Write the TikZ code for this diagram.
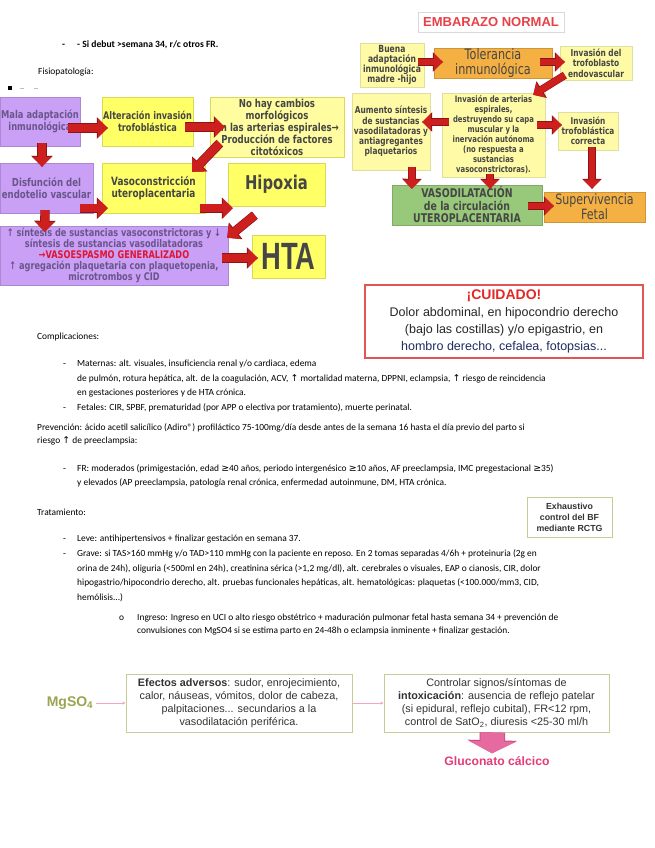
\documentclass[tikz,border=0pt]{standalone}
\usepackage{fontspec}
\setmainfont{Carlito}
\newfontfamily\chartfont[FakeStretch=0.78]{DejaVu Sans}
\newfontfamily\htafont[FakeStretch=0.72]{Liberation Sans}
\newfontfamily\arialfont{Liberation Sans}
\newfontfamily\symfont{DejaVu Sans}
\usetikzlibrary{arrows.meta,positioning}
\definecolor{LilacBox}{RGB}{201,160,245}
\definecolor{LilacText}{RGB}{105,85,140}
\definecolor{BrightYellow}{RGB}{255,255,102}
\definecolor{SoftYellow}{RGB}{255,253,160}
\definecolor{PaleYellow}{RGB}{255,250,165}
\definecolor{PaleBorder}{RGB}{222,222,160}
\definecolor{ChartText}{RGB}{70,70,70}
\definecolor{OrangeBox}{RGB}{244,176,66}
\definecolor{GreenBox}{RGB}{152,200,122}
\definecolor{ArrowRed}{RGB}{205,32,30}
\definecolor{ArrowDark}{RGB}{140,20,20}
\definecolor{SpasmRed}{RGB}{225,20,50}
\definecolor{TitleRed}{RGB}{232,64,72}
\definecolor{CuidadoRed}{RGB}{228,40,40}
\definecolor{CuidadoBorder}{RGB}{225,85,85}
\definecolor{NavyText}{RGB}{30,45,95}
\definecolor{OliveText}{RGB}{155,165,80}
\definecolor{OliveBorder}{RGB}{195,205,150}
\definecolor{PinkArrow}{RGB}{230,105,160}
\definecolor{PinkDark}{RGB}{200,70,130}
\definecolor{PinkText}{RGB}{228,60,120}
\definecolor{PinkLine}{RGB}{245,165,195}
\newcommand{\arrup}{{\symfont ↑}}
\newcommand{\arrdown}{{\symfont ↓}}
\newcommand{\gq}{{\symfont ≥}}

\begin{document}
\begin{tikzpicture}[
    x=1pt, y=-1pt,
    txt/.style={anchor=base west, inner sep=0pt, font=\fontsize{9.4}{11}\selectfont, text=black},
    lilacbox/.style={fill=LilacBox, draw=LilacBox!85!black, align=center, inner sep=0pt, text=LilacText, font=\chartfont\bfseries\fontsize{10.7}{12.3}\selectfont},
    yellowbox/.style={fill=BrightYellow, draw=BrightYellow!85!black, align=center, inner sep=0pt, text=ChartText, font=\chartfont\bfseries\fontsize{10.5}{12.3}\selectfont},
    rowtwo/.style={font=\chartfont\bfseries\fontsize{11}{12}\selectfont},
    paleybox/.style={fill=PaleYellow, draw=PaleBorder, align=center, inner sep=0pt, text=ChartText, font=\chartfont\bfseries\fontsize{9.8}{10}\selectfont},
    orangebox/.style={fill=OrangeBox, draw=OrangeBox!85!black, align=center, inner sep=0pt, text=ChartText, font=\chartfont\fontsize{14.4}{15}\selectfont},
    greenbox/.style={fill=GreenBox, draw=GreenBox!85!black, align=center, inner sep=0pt, text=ChartText, font=\chartfont\bfseries\fontsize{12}{12.5}\selectfont},
    redarrow/.style={draw=ArrowRed, line width=8pt, -{Triangle[length=10pt,width=19pt]},
      preaction={draw=ArrowDark, line width=9.4pt, -{Triangle[length=11pt,width=21pt]}}},
    smallarrow/.style={draw=ArrowRed, line width=6.5pt, -{Triangle[length=9pt,width=17pt]},
      preaction={draw=ArrowDark, line width=7.7pt, -{Triangle[length=10pt,width=19pt]}}},
    olivebox/.style={draw=OliveBorder, line width=1pt, fill=white, align=center, inner sep=0pt, text=black!80, font=\arialfont\fontsize{10.8}{13}\selectfont},
    thinpink/.style={draw=PinkLine, line width=0.6pt, -{Stealth[length=3pt,width=3pt]}},
    pinkarrow/.style={draw=PinkArrow, line width=24pt, -{Triangle[length=12pt,width=47pt]},
      preaction={draw=PinkDark, line width=25.5pt, -{Triangle[length=13pt,width=49pt]}}}
  ]
  \path[use as bounding box, fill=white] (0,0) rectangle (655,848);

  % header text
  \node[txt, font=\bfseries\fontsize{9.6}{11}\selectfont] (dashA) at (62,48) {-};
  \node[txt, font=\bfseries\fontsize{9.6}{11}\selectfont] (sidebut) at (77,48) {- Si debut >semana 34, r/c otros FR.};
  \node[txt] (fisio) at (38,75) {Fisiopatología:};
  \fill[black] (8,86) rectangle (12,90);
  \draw[black!25, line width=0.8pt] (20,88) -- (24,88) (34,88) -- (38,88);

  % Fisiopatologia chart
  \node[lilacbox, minimum width=80pt, minimum height=49pt] (mala) at (40,121.5) {Mala adaptación\\inmunológica};
  \node[yellowbox, minimum width=91pt, minimum height=49pt] (alter) at (147.5,121.5) {Alteración invasión\\trofoblástica};
  \node[yellowbox, fill=SoftYellow, minimum width=134pt, minimum height=60pt, font=\chartfont\bfseries\fontsize{11}{12}\selectfont] (nohay) at (277,127) {No hay cambios\\morfológicos\\en las arterias espirales→\\Producción de factores\\citotóxicos};
  \node[lilacbox, rowtwo, minimum width=93pt, minimum height=50pt] (disf) at (46.5,188) {Disfunción del\\endotelio vascular};
  \node[yellowbox, rowtwo, font=\chartfont\bfseries\fontsize{11.4}{12}\selectfont, minimum width=103pt, minimum height=50pt] (vaso) at (153.5,188) {Vasoconstricción\\uteroplacentaria};
  \node[yellowbox, minimum width=97pt, minimum height=43pt, font=\chartfont\bfseries\fontsize{19}{21}\selectfont] (hipoxia) at (276.5,184.5) {Hipoxia};
  \node[lilacbox, minimum width=228pt, minimum height=59pt, font=\chartfont\bfseries\fontsize{10.5}{10.8}\selectfont] (sintesis) at (114,255.5) {↑ síntesis de sustancias vasoconstrictoras y ↓\\síntesis de sustancias vasodilatadoras\\{\color{SpasmRed}→VASOESPASMO GENERALIZADO}\\↑ agregación plaquetaria con plaquetopenia,\\microtrombos y CID};
  \node[yellowbox, minimum width=73pt, minimum height=43pt, font=\htafont\bfseries\fontsize{38}{40}\selectfont] (hta) at (288.5,256.5) {HTA};

  \draw[redarrow] ([xshift=-12pt,yshift=-6.5pt]mala.east) -- ([xshift=6pt,yshift=-6.5pt]alter.west);
  \draw[redarrow] ([xshift=-8pt,yshift=-5.5pt]alter.east) -- ([xshift=15pt]nohay.west);
  \draw[redarrow] ([xshift=2pt,yshift=3pt]mala.south) -- ([xshift=-4.5pt,yshift=-4pt]disf.north);
  \draw[redarrow] ([xshift=10pt,yshift=14pt]nohay.south west) -- ([xshift=-13pt,yshift=-9pt]vaso.north east);
  \draw[redarrow] ([xshift=-13pt,yshift=5pt]disf.south east) -- ([xshift=6pt,yshift=5pt]vaso.south west);
  \draw[redarrow] ([xshift=-5pt,yshift=5pt]vaso.south east) -- ([xshift=5pt,yshift=-2pt]hipoxia.south west);
  \draw[redarrow] ([xshift=-1.5pt,yshift=3pt]disf.south) -- ([xshift=45pt,yshift=-6pt]sintesis.north west);
  \draw[redarrow] ([xshift=27pt,yshift=-9pt]hipoxia.south west) -- ([xshift=-1pt,yshift=-12pt]sintesis.north east);
  \draw[redarrow] ([xshift=-6pt,yshift=-2.5pt]sintesis.east) -- ([xshift=6pt,yshift=-1.5pt]hta.west);

  % Embarazo normal chart
  \node[draw=black!15, fill=white, minimum width=146pt, minimum height=20pt, inner sep=0pt, text=TitleRed, font=\arialfont\bfseries\fontsize{13}{15}\selectfont] (embarazo) at (491,22) {EMBARAZO NORMAL};
  \node[paleybox, minimum width=64pt, minimum height=44pt] (buena) at (392,65) {Buena\\adaptación\\inmunológica\\madre -hijo};
  \node[orangebox, minimum width=118pt, minimum height=30pt] (tolerancia) at (493,63) {Tolerancia\\inmunológica};
  \node[paleybox, minimum width=72pt, minimum height=34pt, font=\chartfont\bfseries\fontsize{9.5}{10.3}\selectfont] (invtrof) at (596,63) {Invasión del\\trofoblasto\\endovascular};
  \node[paleybox, minimum width=103pt, minimum height=84pt, font=\chartfont\bfseries\fontsize{8.8}{10}\selectfont] (invart) at (493.5,135) {Invasión de arterias\\espirales,\\destruyendo su capa\\muscular y la\\inervación autónoma\\(no respuesta a\\sustancias\\vasoconstrictoras).};
  \node[paleybox, minimum width=78pt, minimum height=77pt, font=\chartfont\bfseries\fontsize{9.5}{10.3}\selectfont] (aumento) at (391,131.5) {Aumento síntesis\\de sustancias\\vasodilatadoras y\\antiagregantes\\plaquetarios};
  \node[paleybox, minimum width=60pt, minimum height=38pt, font=\chartfont\bfseries\fontsize{9.4}{10.3}\selectfont] (trofcorr) at (588,131) {Invasión\\trofoblástica\\correcta};
  \node[greenbox, minimum width=150pt, minimum height=40pt] (vasodil) at (467,205) {VASODILATACIÓN\\de la circulación\\UTEROPLACENTARIA};
  \node[orangebox, minimum width=101pt, minimum height=30pt, font=\chartfont\fontsize{14.2}{15}\selectfont] (superviv) at (594.5,207) {Supervivencia\\Fetal};

  \draw[smallarrow] ([xshift=-6pt,yshift=3pt]buena.east) -- ([xshift=9pt,yshift=1pt]tolerancia.west);
  \draw[smallarrow] ([xshift=-12pt,yshift=1pt]tolerancia.east) -- ([xshift=5pt,yshift=1pt]invtrof.west);
  \draw[smallarrow] ([xshift=5pt,yshift=5pt]invtrof.south west) -- ([xshift=-12pt,yshift=-2pt]invart.north east);
  \draw[smallarrow] ([xshift=7pt,yshift=13pt]invart.west) -- ([xshift=-8pt,yshift=9.5pt]aumento.east);
  \draw[smallarrow] ([xshift=-8pt,yshift=10pt]invart.east) -- ([xshift=4pt,yshift=6pt]trofcorr.west);
  \draw[smallarrow] ([xshift=21pt,yshift=3pt]aumento.south) -- ([xshift=20pt,yshift=-4pt]vasodil.north west);
  \draw[smallarrow] ([xshift=-3.5pt,yshift=3pt]invart.south) -- ([xshift=23pt,yshift=-4pt]vasodil.north);
  \draw[smallarrow] ([xshift=4pt,yshift=3pt]trofcorr.south) -- ([xshift=-2.5pt,yshift=3pt]superviv.north);
  \draw[smallarrow] ([xshift=-14pt,yshift=-1pt]vasodil.east) -- ([xshift=10pt,yshift=1pt]superviv.west);

  % warning box
  \node[draw=CuidadoBorder, line width=1.2pt, fill=white, minimum width=278pt, minimum height=73pt, inner sep=0pt, align=center, text=black!85, font=\arialfont\fontsize{12.5}{17}\selectfont] (cuidado) at (504,321.5) {{\color{CuidadoRed}\bfseries\fontsize{14}{17}\selectfont ¡CUIDADO!}\\Dolor abdominal, en hipocondrio derecho\\(bajo las costillas) y/o epigastrio, en\\{\color{NavyText}hombro derecho, cefalea, fotopsias...}};

  % complicaciones
  \node[txt] (compl) at (37,339) {Complicaciones:};
  \node[txt] (dashB) at (63,366) {-};
  \node[txt] (maternas) at (77,366) {Maternas: alt. visuales, insuficiencia renal y/o cardiaca, edema};
  \node[txt] (maternasB) at (77,381) {de pulmón, rotura hepática, alt. de la coagulación, ACV, \arrup{} mortalidad materna, DPPNI, eclampsia, \arrup{} riesgo de reincidencia};
  \node[txt] (maternasC) at (77,395) {en gestaciones posteriores y de HTA crónica.};
  \node[txt] (dashC) at (63,410) {-};
  \node[txt] (fetales) at (77,410) {Fetales: CIR, SPBF, prematuridad (por APP o electiva por tratamiento), muerte perinatal.};

  % prevencion
  \node[txt] (prev) at (37,430) {Prevención: ácido acetil salicílico (Adiro®) profiláctico 75-100mg/día desde antes de la semana 16 hasta el día previo del parto si};
  \node[txt] (prevB) at (37,443) {riesgo \arrup{} de preeclampsia:};
  \node[txt] (dashD) at (63,471) {-};
  \node[txt] (fr) at (77,471) {FR: moderados (primigestación, edad \gq{}40 años, periodo intergenésico \gq{}10 años, AF preeclampsia, IMC pregestacional \gq{}35)};
  \node[txt] (frB) at (77,485) {y elevados (AP preeclampsia, patología renal crónica, enfermedad autoinmune, DM, HTA crónica.};

  \node[draw=OliveBorder, line width=1pt, fill=white, minimum width=85pt, minimum height=40pt, inner sep=0pt, align=center, text=black!80, font=\arialfont\bfseries\fontsize{8.8}{11}\selectfont] (exhaustivo) at (569.5,517) {Exhaustivo\\control del BF\\mediante RCTG};

  % tratamiento
  \node[txt] (trat) at (37,515) {Tratamiento:};
  \node[txt] (dashE) at (63,541) {-};
  \node[txt] (leve) at (77,541) {Leve: antihipertensivos + finalizar gestación en semana 37.};
  \node[txt] (dashF) at (63,556) {-};
  \node[txt] (grave) at (77,556) {Grave: si TAS>160 mmHg y/o TAD>110 mmHg con la paciente en reposo. En 2 tomas separadas 4/6h + proteinuria (2g en};
  \node[txt] (graveB) at (77,571) {orina de 24h), oliguria (<500ml en 24h), creatinina sérica (>1,2 mg/dl), alt. cerebrales o visuales, EAP o cianosis, CIR, dolor};
  \node[txt] (graveC) at (77,585) {hipogastrio/hipocondrio derecho, alt. pruebas funcionales hepáticas, alt. hematológicas: plaquetas (<100.000/mm3, CID,};
  \node[txt] (graveD) at (77,600) {hemólisis...)};
  \node[txt] (circ) at (119,620) {o};
  \node[txt] (ingreso) at (137,620) {Ingreso: Ingreso en UCI o alto riesgo obstétrico + maduración pulmonar fetal hasta semana 34 + prevención de};
  \node[txt] (ingresoB) at (137,633) {convulsiones con MgSO4 si se estima parto en 24-48h o eclampsia inminente + finalizar gestación.};

  % MgSO4
  \node[inner sep=3pt, text=OliveText, font=\arialfont\bfseries\fontsize{14}{16}\selectfont] (mgso) at (70,703) {MgSO\textsubscript{4}};
  \node[olivebox, minimum width=226pt, minimum height=58pt] (efectos) at (239,703) {\textbf{Efectos adversos}: sudor, enrojecimiento,\\calor, náuseas, vómitos, dolor de cabeza,\\palpitaciones... secundarios a la\\vasodilatación periférica.};
  \node[olivebox, minimum width=225pt, minimum height=58pt] (controlar) at (496.5,703) {Controlar signos/síntomas de\\\textbf{intoxicación}: ausencia de reflejo patelar\\(si epidural, reflejo cubital), FR<12 rpm,\\control de SatO\textsubscript{2}, diuresis <25-30 ml/h};
  \node[inner sep=0pt, text=PinkText, font=\arialfont\bfseries\fontsize{12.2}{14}\selectfont] (gluconato) at (497,761) {Gluconato cálcico};

  \draw[thinpink] (mgso) -- (efectos);
  \draw[thinpink] (efectos) -- (controlar);
  \draw[pinkarrow] ([xshift=-4pt]controlar.south) -- ([xshift=-5pt,yshift=3pt]gluconato.north);
\end{tikzpicture}
\end{document}
